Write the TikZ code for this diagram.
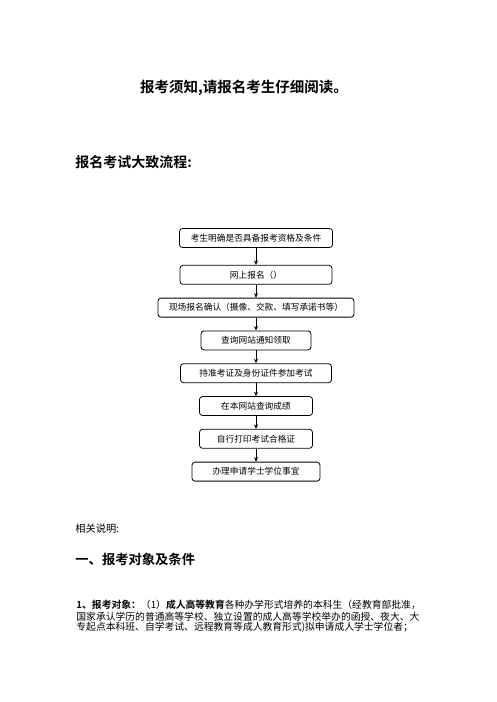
\documentclass[tikz,border=0pt]{standalone}
\usepackage{fontspec}
\setmainfont{Noto Sans CJK SC}[BoldFont={Noto Sans CJK SC Bold}]
\usetikzlibrary{positioning, arrows.meta}

\begin{document}
\begin{tikzpicture}[x=1pt, y=-1pt, ->, >={Stealth[length=4.5pt,width=4pt]}, node distance=13pt, line width=0.8pt,
    stepbox/.style={draw, rounded corners=3pt, minimum height=19pt, inner sep=1pt, font=\fontsize{8.7pt}{10pt}\selectfont},
    bigtitle/.style={inner sep=0pt, font=\fontsize{14.5pt}{17pt}\selectfont\bfseries},
    bodytext/.style={anchor=west, inner sep=0pt, font=\fontsize{9.8pt}{11pt}\selectfont}]
      \useasboundingbox (0,0) rectangle (496,702);

      % Headings
      \node[bigtitle] (title) at (244,88) {报考须知,请报名考生仔细阅读。};
      \node[bigtitle, anchor=west, font=\fontsize{14pt}{17pt}\selectfont\bfseries] (flowhead) at (75,162) {报名考试大致流程:};

      % Flow of steps
      \node[stepbox, minimum width=153pt] (s1) at (256,238) {考生明确是否具备报考资格及条件};
      \node[stepbox, minimum width=152pt] (s2) [below=17pt of s1] {网上报名（）};
      \node[stepbox, minimum width=196pt] (s3) [below=of s2] {现场报名确认（摄像、交款、填写承诺书等）};
      \node[stepbox, minimum width=110pt] (s4) [below=of s3] {查询网站通知领取};
      \node[stepbox, minimum width=151pt] (s5) [below=of s4] {持准考证及身份证件参加考试};
      \node[stepbox, minimum width=113pt] (s6) [below=of s5] {在本网站查询成绩};
      \node[stepbox, minimum width=113pt] (s7) [below=of s6] {自行打印考试合格证};
      \node[stepbox, minimum width=128pt] (s8) [below=of s7] {办理申请学士学位事宜};

      \path (s1) edge (s2)
            (s2) edge (s3)
            (s3) edge (s4)
            (s4) edge (s5)
            (s5) edge (s6)
            (s6) edge (s7)
            (s7) edge (s8)
            ;

      % Notes below the chart
      \node[bodytext, font=\fontsize{10.2pt}{12pt}\selectfont] (notes) at (75,529) {相关说明:};
      \node[bigtitle, anchor=west, font=\fontsize{13.3pt}{16pt}\selectfont\bfseries] (sec1) at (75,559) {一、报考对象及条件};
      \node[bodytext] (line1) at (76,605) {\textbf{1、报考对象：}（1）\textbf{成人高等教育}各种办学形式培养的本科生（经教育部批准，};
      \node[bodytext] (line2) at (76,616.3) {国家承认学历的普通高等学校、独立设置的成人高等学校举办的函授、夜大、大};
      \node[bodytext] (line3) at (76,627.6) {专起点本科班、自学考试、远程教育等成人教育形式)拟申请成人学士学位者；};
\end{tikzpicture}
\end{document}
